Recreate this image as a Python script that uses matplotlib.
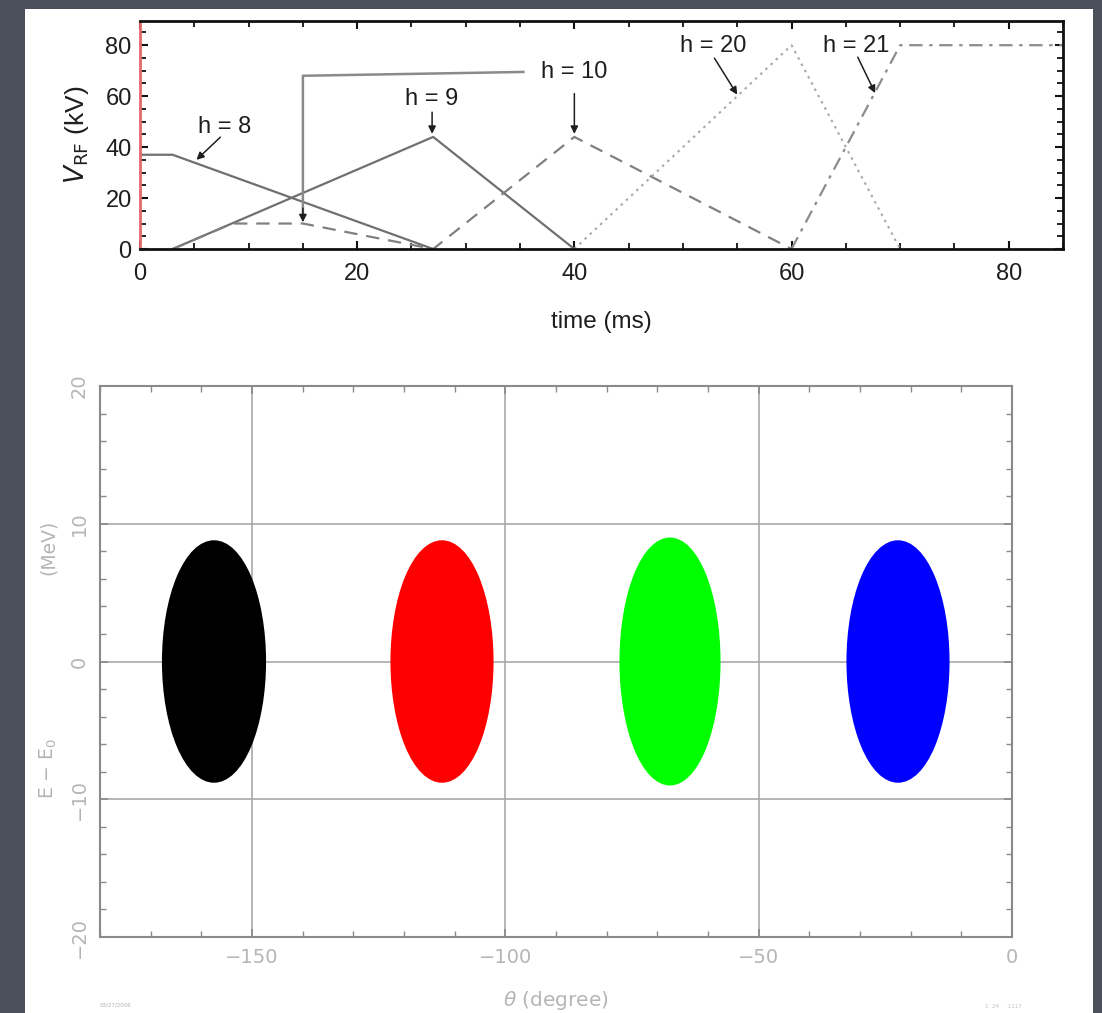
import numpy as np
import matplotlib
matplotlib.use('Agg')
import matplotlib.pyplot as plt
from matplotlib.patches import Ellipse, Rectangle
from matplotlib.ticker import MultipleLocator


# ~~~~~~ Data ~~~~~~~~~~~~~~~~~~~~~~~~~~~~~~~~~~~~~~~~~~~~~~~~~~~~~~~~~~~~~~~~~

# RF voltage programs (time in ms, voltage in kV)
t_h8 = [0, 3, 27]
v_h8 = [37, 37, 0]
t_h9 = [3, 27, 40]
v_h9 = [0, 44, 0]
t_h10 = [3, 8.5, 15, 27, 40, 60]
v_h10 = [0, 10, 10, 0, 44, 0]
t_h20 = [40, 60, 70]
v_h20 = [0, 80, 0]
t_h21 = [60, 70, 85]
v_h21 = [0, 80, 80]

# labels: text position, arrow start, arrow tip
labels = ['h = 8', 'h = 9', 'h = 10', 'h = 20', 'h = 21']
label_xy = [(7.8, 48.0), (26.9, 58.8), (40.0, 69.5), (52.8, 79.5), (66.0, 79.5)]
arrow_from = [(7.4, 43.9), (26.9, 53.7), (40.0, 61.0), (52.9, 74.9), (66.1, 75.3)]
arrow_tip = [(5.2, 35.0), (26.9, 45.2), (40.0, 45.2), (55.0, 60.6), (67.7, 61.2)]

# h = 10 connector to the flat part
conn_t = [35.3, 15, 15]
conn_v = [69.5, 68, 14]

# phase space bunches (deg, MeV)
bunch_phase = [-157.5, -112.5, -67.5, -22.5]
bunch_dphi = [10.0, 9.9, 9.7, 9.9]
bunch_dE = [8.7, 8.7, 8.9, 8.7]
bunch_colors = ['#000000', '#ff0000', '#00ff00', '#0000ff']


# ~~~~~~ Figure ~~~~~~~~~~~~~~~~~~~~~~~~~~~~~~~~~~~~~~~~~~~~~~~~~~~~~~~~~~~~~~~

W, H = 1102, 1013
fig = plt.figure(figsize=(W / 100, H / 100), dpi=100, facecolor='#4b505b')
fig.patches.append(Rectangle((25 / W, 0), (1093 - 25) / W, 1 - 9 / H,
                             transform=fig.transFigure, facecolor='white',
                             edgecolor='none', zorder=-10))

font = 'Liberation Sans'
ink = '#1e1e1e'

# ~~~~~~ Top panel ~~~~~~~~~~~~~~~~~~~~~~~~~~~~~~~~~~~~~~~~~~~~~~~~~~~~~~~~~~~~

ax1 = fig.add_axes([140 / W, 1 - 249 / H, (1063 - 140) / W, (249 - 21) / H])
ax1.plot(t_h8, v_h8, color='#707070', lw=1.6)
ax1.plot(t_h9, v_h9, color='#707070', lw=1.6)
ax1.plot(t_h10, v_h10, color='#808080', lw=1.6, dashes=(6, 4))
ax1.plot(t_h20, v_h20, color='#a8a8a8', lw=1.5, dashes=(1.2, 2.2))
ax1.plot(t_h21, v_h21, color='#8c8c8c', lw=1.6, dashes=(6, 3, 1.5, 3))
ax1.plot(conn_t, conn_v, color='#8a8a8a', lw=1.8)
ax1.annotate('', xy=(15, 10.5), xytext=(15, 16),
             arrowprops=dict(arrowstyle='-|>', color=ink, lw=1.1,
                             mutation_scale=11, shrinkA=0, shrinkB=0))

for lab, xy, a0, a1 in zip(labels, label_xy, arrow_from, arrow_tip):
    ax1.text(xy[0], xy[1], lab, ha='center', va='center', fontsize=17,
             family=font, color=ink)
    ax1.annotate('', xy=a1, xytext=a0,
                 arrowprops=dict(arrowstyle='-|>', color=ink, lw=1.1,
                                 mutation_scale=11, shrinkA=0, shrinkB=0))

ax1.set_xlim(0, 85)
ax1.set_ylim(0, 89.5)
ax1.xaxis.set_major_locator(MultipleLocator(20))
ax1.xaxis.set_minor_locator(MultipleLocator(5))
ax1.yaxis.set_major_locator(MultipleLocator(20))
ax1.yaxis.set_minor_locator(MultipleLocator(5))
ax1.tick_params(which='both', direction='in', top=True, right=True,
                color='#111111', labelsize=17, labelcolor=ink)
ax1.tick_params(which='major', length=6, width=1.5)
ax1.tick_params(which='minor', length=4, width=1.3)
ax1.tick_params(axis='x', which='major', pad=10)
ax1.tick_params(axis='y', which='major', pad=6)
for lbl in ax1.get_xticklabels() + ax1.get_yticklabels():
    lbl.set_family(font)
for side in ['top', 'right', 'bottom']:
    ax1.spines[side].set_linewidth(2)
    ax1.spines[side].set_color('#111111')
ax1.spines['left'].set_linewidth(2)
ax1.spines['left'].set_color('#e06a6a')
ax1.set_xlabel('time (ms)', fontsize=17.5, family=font, color=ink,
               labelpad=19)
ax1.set_ylabel(r'$V_{\rm RF}$ (kV)', fontsize=19, family=font,
               color=ink, labelpad=10)

# ~~~~~~ Bottom panel ~~~~~~~~~~~~~~~~~~~~~~~~~~~~~~~~~~~~~~~~~~~~~~~~~~~~~~~~~

ax2 = fig.add_axes([100 / W, 1 - 937 / H, (1012 - 100) / W, (937 - 386) / H])
for x0, dx, dy, c in zip(bunch_phase, bunch_dphi, bunch_dE, bunch_colors):
    ax2.add_patch(Ellipse((x0, 0), 2 * dx, 2 * dy, facecolor=c,
                          edgecolor=c, lw=2, zorder=3))

ax2.set_xlim(-180, 0)
ax2.set_ylim(-20, 20)
ax2.set_xticks([-150, -100, -50, 0])
ax2.xaxis.set_minor_locator(MultipleLocator(10))
ax2.set_yticks([-20, -10, 0, 10, 20])
ax2.yaxis.set_minor_locator(MultipleLocator(2))
ax2.grid(True, which='major', color='#a9a9a9', lw=1.2, zorder=1)
ax2.tick_params(which='both', direction='in', top=True, right=True,
                color='#8a8a8a', labelsize=14, labelcolor='#b5b5b5')
ax2.tick_params(which='major', length=6, width=1.2, pad=8)
ax2.tick_params(which='minor', length=4, width=1.0)
ax2.tick_params(axis='y', labelrotation=90)
for lbl in ax2.get_yticklabels():
    lbl.set_va('center')
for side in ax2.spines:
    ax2.spines[side].set_color('#8a8a8a')
    ax2.spines[side].set_linewidth(1.5)
ax2.set_xlabel(r'$\theta$ (degree)', fontsize=14.5, color='#b5b5b5',
               labelpad=16)
fig.text(48 / W, 1 - 768 / H, r'E $-$ E$_0$', rotation=90, fontsize=13.5,
         color='#b5b5b5', ha='center', va='center')
fig.text(48 / W, 1 - 547 / H, '(MeV)', rotation=90, fontsize=13.5,
         color='#b5b5b5', ha='center', va='center')

# tiny footer stamps
fig.text(100 / W, 1 - 1005 / H, '03/27/2006', fontsize=4, color='#b0b0b0',
         va='center')
fig.text(985 / W, 1 - 1006 / H, '1  24  .  1117', fontsize=4,
         color='#c0c0c0', va='center')

fig.savefig('out.png', dpi=100, facecolor=fig.get_facecolor())
